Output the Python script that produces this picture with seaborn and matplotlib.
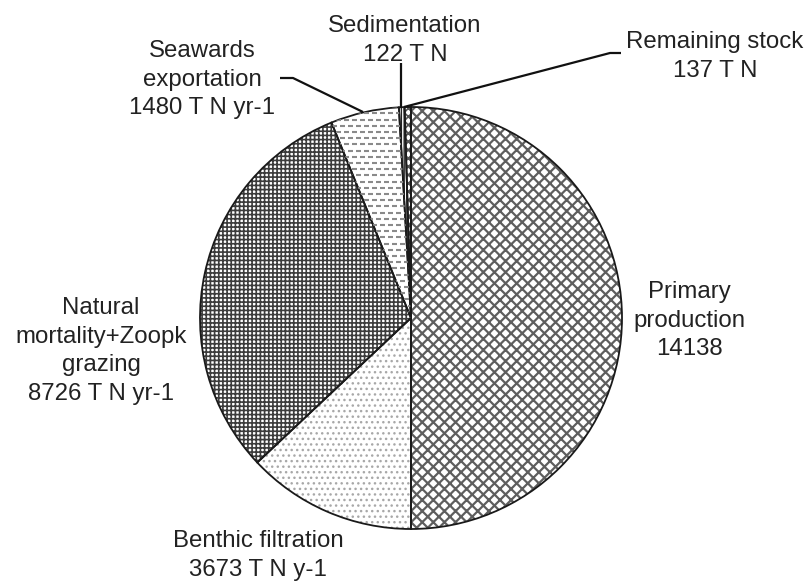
import numpy as np
import matplotlib
matplotlib.use("Agg")
import matplotlib.pyplot as plt
from matplotlib.collections import LineCollection
import seaborn as sns

# Nitrogen budget components (T N)
categories = ["Primary production", "Benthic filtration",
              "Natural mortality+Zoopk grazing", "Seawards exportation",
              "Sedimentation", "Remaining stock"]
values = [14138, 3673, 8726, 1480, 122, 137]

# Text shown beside each wedge
label_lines = {
    "Primary production": ["Primary", "production", "14138"],
    "Benthic filtration": ["Benthic filtration", "3673 T N y-1"],
    "Natural mortality+Zoopk grazing": ["Natural", "mortality+Zoopk", "grazing", "8726 T N yr-1"],
    "Seawards exportation": ["Seawards", "exportation", "1480 T N yr-1"],
    "Sedimentation": ["Sedimentation", "122 T N"],
    "Remaining stock": ["Remaining stock", "137 T N"],
}

sns.set_theme(style="white")
plt.rcParams["font.family"] = ["Liberation Sans", "DejaVu Sans"]
plt.rcParams["hatch.linewidth"] = 1.5

W, H = 811, 583
fig = plt.figure(figsize=(W / 100, H / 100), dpi=100)
fig.patch.set_facecolor("white")
ax = fig.add_axes([0, 0, 1, 1])


def py(y):
    """Convert a top-down pixel row into the axes' y coordinate."""
    return H - y


center = (411, py(318))
radius = 211

# hatch pattern, hatch colour and hatch width per wedge
hatches = ["xxx", "...", "++++", "", "||||||", "xxxx"]
hatch_colors = ["#5e5e5e", "#a8a8a8", "#3c3c3c", "#888888", "#222222", "#555555"]
hatch_widths = [1.6, 1.0, 1.2, 1.0, 1.0, 1.2]

wedges, _ = ax.pie(values, startangle=90, counterclock=False,
                   center=center, radius=radius, frame=True,
                   wedgeprops=dict(linewidth=0, facecolor="white"))
for w, h, c, hw in zip(wedges, hatches, hatch_colors, hatch_widths):
    w.set_edgecolor(c)
    w.set_hatch(h)
    w.set_linewidth(0)
    if hasattr(w, "set_hatch_linewidth"):
        w.set_hatch_linewidth(hw)

# short staggered dashes filling the seawards wedge
sea = wedges[3]
segs = []
row_step, col_step, dash = 6.2, 8.0, 4.5
ys = np.arange(center[1], center[1] + radius + row_step, row_step)
for i, yy in enumerate(ys):
    off = (col_step / 2) * (i % 2)
    xs = np.arange(center[0] - radius + off, center[0] + 10, col_step)
    for xx in xs:
        segs.append([(xx, yy), (xx + dash, yy)])
lc = LineCollection(segs, colors="#8a8a8a", linewidths=1.5, capstyle="butt")
ax.add_collection(lc)
lc.set_clip_path(sea)

# dark outlines on top of the textures
outline, _ = ax.pie(values, startangle=90, counterclock=False,
                    center=center, radius=radius, frame=True,
                    wedgeprops=dict(linewidth=1.3, edgecolor="#1a1a1a", fill=False))

ax.set_xlim(0, W)
ax.set_ylim(0, H)
ax.set_aspect("equal")
ax.axis("off")

# label anchors: (center x, first baseline) in pixel rows
label_pos = {
    "Primary production": (689, 298),
    "Benthic filtration": (258, 547),
    "Natural mortality+Zoopk grazing": (101, 314),
    "Seawards exportation": (202, 57),
    "Sedimentation": (405, 32),
    "Remaining stock": (715, 48),
}
line_step = 28.7
for cat in categories:
    x0, y0 = label_pos[cat]
    for k, line in enumerate(label_lines[cat]):
        ax.text(x0, py(y0 + k * line_step), line, ha="center", va="baseline",
                fontsize=17.3, color="#222222")

# leader lines
leaders = [
    [(401, 63), (401, 108)],
    [(404, 107), (610, 53), (621, 53)],
    [(280, 78), (293, 78), (363, 112)],
]
for pts in leaders:
    xs = [p[0] for p in pts]
    ys_ = [py(p[1]) for p in pts]
    ax.plot(xs, ys_, color="#111111", lw=1.6, solid_capstyle="butt")

fig.savefig("out.png", dpi=100, facecolor="white")
